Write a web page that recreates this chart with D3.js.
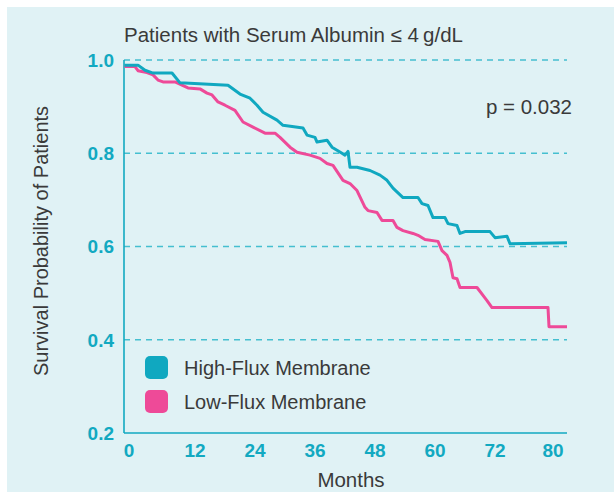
<!DOCTYPE html>
<html>
<head>
<meta charset="utf-8">
<script src="https://cdn.jsdelivr.net/npm/d3@7"></script>
<style>
  html, body { margin: 0; padding: 0; background: #ffffff; }
  svg { display: block; }
  text { font-family: "Liberation Sans", Arial, Helvetica, sans-serif; }
</style>
</head>
<body>
<svg id="chart" width="614" height="492"></svg>
<script>
// ---- data ----
const title = "Patients with Serum Albumin \u2264 4\u2009g/dL";
const xLabel = "Months";
const yLabel = "Survival Probability of Patients";
const pValue = "p = 0.032";
const seriesNames = ["High-Flux Membrane", "Low-Flux Membrane"];
const seriesColors = ["#10a8c0", "#ee4a98"];

const xTickPos = [-1.2, 12, 24, 36, 48, 60, 72, 83.6];
const xTickLabels = ["0", "12", "24", "36", "48", "60", "72", "80"];
const yTickValues = [0.2, 0.4, 0.6, 0.8, 1.0];
const yGridValues = [0.4, 0.6, 0.8, 1.0];

const highMonths = [0, 0.6, 2, 3.6, 7.4, 9, 18.6, 21, 23, 24.4, 25.6, 28.4, 29.6, 33.6, 34.4, 36, 36.4, 38.4, 39.4, 41.4, 42, 42.6, 43, 44.4, 47, 49, 50.4, 51.6, 53.6, 56.6, 57.4, 58.6, 59.6, 62, 62.6, 64.4, 65, 66, 71, 72, 74.4, 75, 86.4];
const highSurv = [0.989, 0.989, 0.978, 0.972, 0.972, 0.951, 0.946, 0.927, 0.918, 0.903, 0.888, 0.871, 0.860, 0.854, 0.839, 0.834, 0.824, 0.828, 0.813, 0.800, 0.796, 0.804, 0.770, 0.770, 0.763, 0.753, 0.742, 0.725, 0.705, 0.705, 0.692, 0.688, 0.662, 0.662, 0.649, 0.645, 0.628, 0.632, 0.632, 0.619, 0.622, 0.606, 0.608];

const lowMonths = [0, 0.6, 2.4, 3.6, 4.6, 5.6, 8, 9.4, 10.6, 13, 14.4, 15.4, 16.6, 18, 20, 21.6, 23.6, 26, 28, 29, 31, 32.4, 35, 37, 38.4, 39.6, 41.6, 43, 44.4, 46, 46.6, 48.4, 49.4, 51.6, 52.4, 53.6, 55.6, 56.6, 58, 60.6, 61.4, 62.4, 63, 63.6, 64.4, 65, 68.4, 69.6, 70.4, 71.4, 82.6, 82.8, 86.4];
const lowSurv = [0.986, 0.977, 0.973, 0.968, 0.957, 0.953, 0.953, 0.946, 0.940, 0.938, 0.929, 0.925, 0.910, 0.903, 0.892, 0.867, 0.856, 0.843, 0.843, 0.834, 0.813, 0.802, 0.796, 0.789, 0.778, 0.774, 0.742, 0.735, 0.720, 0.684, 0.677, 0.673, 0.656, 0.656, 0.641, 0.634, 0.628, 0.624, 0.615, 0.611, 0.591, 0.581, 0.566, 0.533, 0.531, 0.512, 0.512, 0.495, 0.484, 0.469, 0.469, 0.428, 0.428];

// ---- layout ----
const svg = d3.select("#chart");
const W = 614, H = 492;
const plot = { left: 124, right: 567, top: 60, bottom: 433 };
const teal = "#12a9c1";
const textGray = "#3a3a3a";

svg.append("rect").attr("x", 7).attr("y", 7).attr("width", W - 7).attr("height", H - 7)
  .attr("fill", "#e0f2f5");

const x = d3.scaleLinear().domain([-2.2, 86.4]).range([plot.left, plot.right]);
const y = d3.scaleLinear().domain([0.2, 1.0]).range([plot.bottom, plot.top]);

// grid lines (dashed)
svg.append("g").selectAll("line").data(yGridValues).join("line")
  .attr("x1", plot.left).attr("x2", plot.right)
  .attr("y1", d => y(d)).attr("y2", d => y(d))
  .attr("stroke", "#45bfd0").attr("stroke-width", 1.3)
  .attr("stroke-dasharray", "6,5");

// axes lines
svg.append("line").attr("x1", plot.left).attr("x2", plot.left)
  .attr("y1", y(1.0)).attr("y2", plot.bottom)
  .attr("stroke", teal).attr("stroke-width", 1.6);
svg.append("line").attr("x1", plot.left).attr("x2", plot.right)
  .attr("y1", plot.bottom).attr("y2", plot.bottom)
  .attr("stroke", teal).attr("stroke-width", 1.6);

// y tick labels
svg.append("g").selectAll("text").data(yTickValues).join("text")
  .attr("x", 114).attr("y", d => y(d)).attr("dy", "0.36em")
  .attr("text-anchor", "end")
  .attr("fill", teal).attr("font-size", 19).attr("font-weight", "bold")
  .text(d => d.toFixed(1));

// x tick labels
svg.append("g").selectAll("text").data(xTickPos).join("text")
  .attr("x", d => x(d)).attr("y", 457)
  .attr("text-anchor", "middle")
  .attr("fill", teal).attr("font-size", 19).attr("font-weight", "bold")
  .text((d, i) => xTickLabels[i]);

// curves
const line = d3.line().x(d => x(d[0])).y(d => y(d[1])).curve(d3.curveLinear);
const series = [
  highMonths.map((m, i) => [m, highSurv[i]]),
  lowMonths.map((m, i) => [m, lowSurv[i]])
];
// draw low first, then high on top
[1, 0].forEach(k => {
  const pts = [[x.domain()[0] + 0.1, series[k][0][1]]].concat(series[k]);
  svg.append("path").datum(pts)
    .attr("d", line)
    .attr("fill", "none")
    .attr("stroke", seriesColors[k])
    .attr("stroke-width", 3)
    .attr("stroke-linejoin", "round")
    .attr("stroke-linecap", "butt");
});

// title
svg.append("text").attr("x", 124).attr("y", 42)
  .attr("fill", textGray).attr("font-size", 20.5)
  .text(title);

// p value
svg.append("text").attr("x", 572).attr("y", 114)
  .attr("text-anchor", "end")
  .attr("fill", textGray).attr("font-size", 20.5)
  .text(pValue);

// axis titles
svg.append("text").attr("x", 351).attr("y", 487)
  .attr("text-anchor", "middle")
  .attr("fill", textGray).attr("font-size", 20.5)
  .text(xLabel);
svg.append("text")
  .attr("transform", "translate(48,241) rotate(-90)")
  .attr("text-anchor", "middle")
  .attr("fill", textGray).attr("font-size", 20)
  .text(yLabel);

// legend
const legend = svg.append("g");
seriesNames.forEach((name, i) => {
  const ly = 356 + i * 34;
  legend.append("rect").attr("x", 145).attr("y", ly).attr("width", 23).attr("height", 23)
    .attr("rx", 5).attr("fill", seriesColors[i]);
  legend.append("text").attr("x", 184).attr("y", ly + 19)
    .attr("fill", textGray).attr("font-size", 20)
    .text(name);
});
</script>
</body>
</html>
